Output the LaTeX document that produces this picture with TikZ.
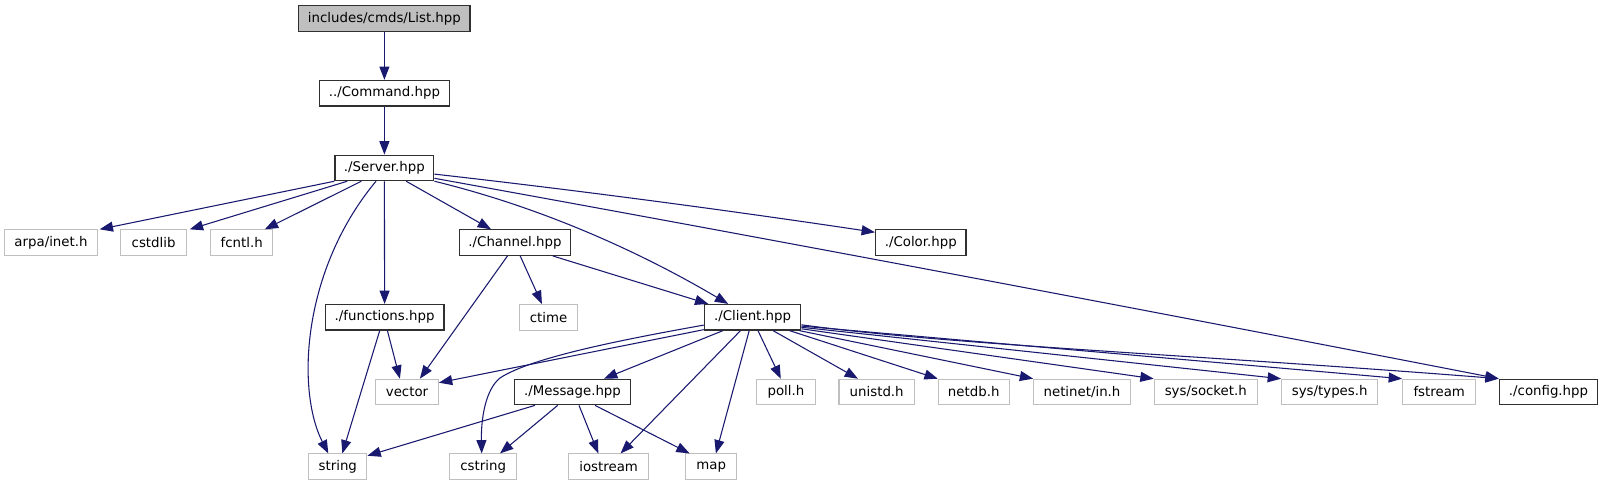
\documentclass[tikz,border=0pt]{standalone}
\usepackage{fontspec}
\setmainfont{DejaVu Sans}
\usetikzlibrary{arrows.meta,calc}
\definecolor{edgec}{HTML}{191970}
\definecolor{graybd}{HTML}{BFBFBF}
\definecolor{rootfill}{HTML}{BFBFBF}
\definecolor{darkbd}{HTML}{303030}
\begin{document}
\begin{tikzpicture}[x=0.75pt,y=-0.75pt,
  base/.style={rectangle,inner sep=0pt,minimum height=25.5*0.75pt,
    font=\fontsize{10}{12}\selectfont,text=black,fill=white},
  W/.style={minimum width=#1*0.75pt},
  gnode/.style={base,draw=graybd,line width=0.8pt},
  bnode/.style={base,draw=darkbd,line width=0.9pt},
  rnode/.style={base,draw=darkbd,fill=rootfill,line width=0.9pt},
  dep/.style={draw=edgec,line width=0.8pt,-{Triangle[length=10pt,width=7.5pt]}}]
\fill[white] (0,0) rectangle (1603,485);
\useasboundingbox (0,0) rectangle (1603,485);
% row 1-3
\node[rnode,W=171.2] (list) at (384.4,18.5) {includes/cmds/List.hpp};
\node[bnode,W=130.1] (command) at (384.4,93.2) {../Command.hpp};
\node[bnode,W=98.9] (server) at (384.4,167.9) {./Server.hpp};
% row 4
\node[gnode,W=92.3] (arpa) at (51,242.6) {arpa/inet.h};
\node[gnode,W=65.3] (cstdlib) at (153.6,242.6) {cstdlib};
\node[gnode,W=62.4] (fcntl) at (241.7,242.6) {fcntl.h};
\node[bnode,W=110.5] (channel) at (515,242.6) {./Channel.hpp};
\node[bnode,W=90.5] (color) at (920.8,242.6) {./Color.hpp};
% row 5
\node[bnode,W=118.6] (func) at (384.6,317.3) {./functions.hpp};
\node[gnode,W=58.2] (ctime) at (548.6,317.3) {ctime};
\node[bnode,W=96.5] (client) at (752.6,317.3) {./Client.hpp};
% row 6
\node[gnode,W=62.8] (vector) at (407,392) {vector};
\node[bnode,W=116.5] (message) at (572.5,392) {./Message.hpp};
\node[gnode,W=58.6] (poll) at (785.9,392) {poll.h};
\node[gnode,W=75.4] (unistd) at (876.7,392) {unistd.h};
\node[gnode,W=70.8] (netdb) at (973.7,392) {netdb.h};
\node[gnode,W=96.6] (netinet) at (1082,392) {netinet/in.h};
\node[gnode,W=103.2] (socket) at (1205.8,392) {sys/socket.h};
\node[gnode,W=96.3] (types) at (1329.7,392) {sys/types.h};
\node[gnode,W=73.3] (fstream) at (1439.2,392) {fstream};
\node[bnode,W=98.3] (config) at (1548.5,392) {./config.hpp};
% row 7
\node[gnode,W=58.2] (string) at (337.8,466.7) {string};
\node[gnode,W=67] (cstring) at (483.2,466.7) {cstring};
\node[gnode,W=80] (iostream) at (608.6,466.7) {iostream};
\node[gnode,W=50.9] (map) at (711.2,466.7) {map};
% edges
\draw[dep] (list.south) -- (command.north);
\draw[dep] (command.south) -- (server.north);
\draw[dep] (server.south west) -- ($(arpa.north east)+(2,0)$);
\draw[dep] ($(server.south)+(-37.2,0)$) -- ($(cstdlib.north east)+(3,0)$);
\draw[dep] ($(server.south)+(-23.1,0)$) -- ($(fcntl.north)+(23.1,0)$);
\draw[dep] ($(server.south)+(-8.4,0)$) .. controls (302,270) and (296,390) .. ($(string.north)+(-9.5,0)$);
\draw[dep] (server.south) -- (func.north);
\draw[dep] ($(server.south)+(21.8,0)$) -- ($(channel.north)+(-24,0)$);
\draw[dep] (server.south east) .. controls (532,205) and (630,246) .. ($(client.north)+(-24.4,0)$);
\draw[dep] ($(server.east)+(0,6.2)$) .. controls (581,190.7) and (728,210.3) .. ($(color.north west)+(0,3)$);
\draw[dep] ($(server.east)+(0,10.4)$) .. controls (789.5,242.5) and (1144.7,309.8) .. (config.north west);
\draw[dep] ($(channel.south)+(-7.5,0)$) -- ($(vector.north)+(12.9,0)$);
\draw[dep] ($(channel.south)+(5.2,0)$) -- ($(ctime.north)+(-6.7,0)$);
\draw[dep] ($(channel.south)+(37.8,0)$) -- ($(client.north west)+(4.6,0)$);
\draw[dep] ($(func.south)+(2.8,0)$) -- ($(vector.north)+(-7.1,0)$);
\draw[dep] ($(func.south)+(-4.9,0)$) -- ($(string.north)+(4.5,0)$);
\draw[dep] ($(client.south west)+(0,-1)$) -- ($(vector.north east)+(0,4)$);
\draw[dep] ($(client.west)+(0,7.8)$) .. controls (620,340) and (530,358) .. (500,378) .. controls (485,390) and (481,420) .. ($(cstring.north)+(-1.5,0)$);
\draw[dep] ($(client.south)+(-29.7,0)$) -- ($(message.north)+(31.5,0)$);
\draw[dep] ($(client.south)+(-12.1,0)$) -- ($(iostream.north)+(12,0)$);
\draw[dep] ($(client.south)+(-3.4,0)$) -- ($(map.north)+(4.7,0)$);
\draw[dep] ($(client.south)+(5.4,0)$) -- ($(poll.north)+(-5.1,0)$);
\draw[dep] ($(client.south)+(20.5,0)$) -- ($(unistd.north)+(-18.7,0)$);
\draw[dep] ($(client.south)+(37,0)$) -- (netdb.north west);
\draw[dep] ($(client.south east)+(-2,0)$) -- (netinet.north west);
\draw[dep] ($(client.east)+(0,11.5)$) -- (socket.north west);
\draw[dep] ($(client.east)+(0,10)$) -- (types.north west);
\draw[dep] ($(client.east)+(0,8.8)$) -- (fstream.north west);
\draw[dep] ($(client.east)+(0,7.5)$) .. controls (950,345) and (1200,355) .. (config.north west);
\draw[dep] ($(message.south)+(-37.5,0)$) -- ($(string.north east)+(0,2.3)$);
\draw[dep] ($(message.south)+(-14.8,0)$) -- ($(cstring.north)+(16.8,0)$);
\draw[dep] ($(message.south)+(6.5,0)$) -- ($(iostream.north)+(-10.3,0)$);
\draw[dep] ($(message.south)+(22.5,0)$) -- ($(map.north)+(-21.6,0)$);
\end{tikzpicture}
\end{document}
